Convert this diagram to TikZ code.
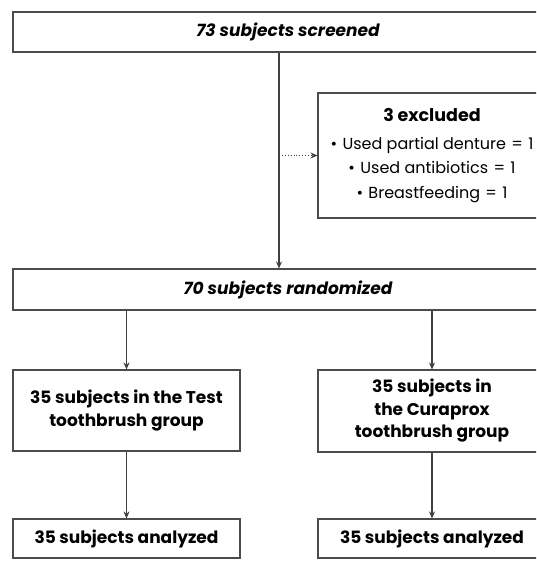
\documentclass[tikz,border=0pt]{standalone}
\usepackage{fontspec}
\setmainfont{Poppins}
\usetikzlibrary{arrows.meta,positioning}
\begin{document}
\begin{tikzpicture}[x=1pt,y=-1pt,
  box/.style={draw=black!70,line width=1.1pt,fill=white,inner sep=0pt,align=center,text=black},
  conn/.style={draw=black!75,line width=1.1pt,-{Stealth[length=7pt,width=6pt]}},
  dconn/.style={draw=black!75,line width=0.9pt,dotted,-{Stealth[length=7pt,width=6pt]}},
  ttl/.style={font=\fontsize{17}{20}\selectfont\bfseries\itshape},
  grp/.style={font=\fontsize{17}{22.5}\selectfont\bfseries},
  lst/.style={font=\fontsize{16}{24.5}\selectfont}
]
\useasboundingbox (0,0) rectangle (536,564);
\clip (0,0) rectangle (536,564);
\fill[white] (0,0) rectangle (536,564);
\node[box,ttl,minimum width=550,minimum height=40] (top) at (288,32) {73 subjects screened};
\node[box,lst,minimum width=228,minimum height=125] (excl) at (432,155.5) {{\fontsize{17.5}{20}\selectfont\bfseries 3 excluded}\\[3pt] •\,\,Used partial denture\,\,=\,\,1\\ •\,\,Used antibiotics\,\,=\,\,1\\ •\,\,Breastfeeding\,\,=\,\,1};
\node[box,ttl,minimum width=550,minimum height=41] (rand) at (288,289.5) {70 subjects randomized};
\node[box,grp,minimum width=227,minimum height=81] (test) at (126.5,410.5) {35 subjects in the Test\\toothbrush group};
\node[box,grp,minimum width=228,minimum height=82] (cura) at (432,411) {35 subjects in\\the Curaprox\\toothbrush group};
\node[box,grp,minimum width=227,minimum height=39] (an1) at (126.5,538.5) {35 subjects analyzed};
\node[box,grp,minimum width=228,minimum height=39] (an2) at (432,538.5) {35 subjects analyzed};
\coordinate (j) at ([xshift=-9pt]top.south |- excl.west);
\draw[conn] ([xshift=-9pt]top.south) -- ([xshift=-9pt]rand.north);
\draw[dconn] (j) -- (excl.west);
\draw[conn] (test.north |- rand.south) -- (test.north);
\draw[conn] (cura.north |- rand.south) -- (cura.north);
\draw[conn] (test.south) -- (an1.north);
\draw[conn] (cura.south) -- (an2.north);
\end{tikzpicture}
\end{document}
